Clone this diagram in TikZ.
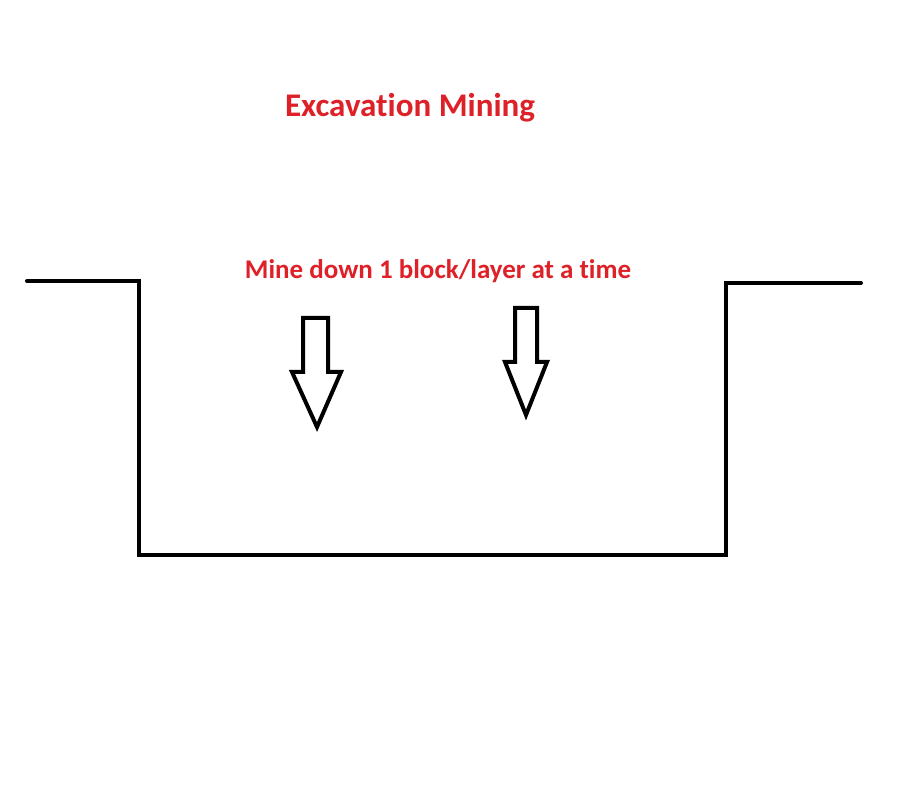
\documentclass[tikz,border=0pt]{standalone}
\usepackage{fontspec}
\setmainfont{Carlito}[Ligatures=NoCommon]
\usepackage{xcolor}
\usetikzlibrary{positioning}
\definecolor{minered}{RGB}{222,32,40}

\begin{document}
\begin{tikzpicture}[x=0.025cm,y=-0.025cm]
        % Draw paper background
        \useasboundingbox[fill=white] (0,0) rectangle (906,799);
        % Draw title
        \node[text=minered,font=\bfseries\fontsize{23.5}{28}\selectfont] (title) at (410,108) {Excavation Mining};
        % Draw caption
        \node[text=minered,font=\bfseries\fontsize{19.2}{23}\selectfont] (caption) at (438,271) {Mine down 1 block/layer at a time};
        % Draw pit outline
        \draw[line width=4*0.7113pt,line cap=round] (27,281) -- (139,281) -- (139,555) -- (726,555) -- (726,283) -- (861,283);
        % Draw left arrow
        \draw[line width=4*0.7113pt] (303,318) -- (328,318) -- (328,372) -- (341,372) -- (317,427) -- (292,372) -- (303,372) -- cycle;
        % Draw right arrow
        \draw[line width=4*0.7113pt] (515,308) -- (537,308) -- (537,362) -- (547,362) -- (526,415) -- (505,362) -- (515,362) -- cycle;
    \end{tikzpicture}
\end{document}
